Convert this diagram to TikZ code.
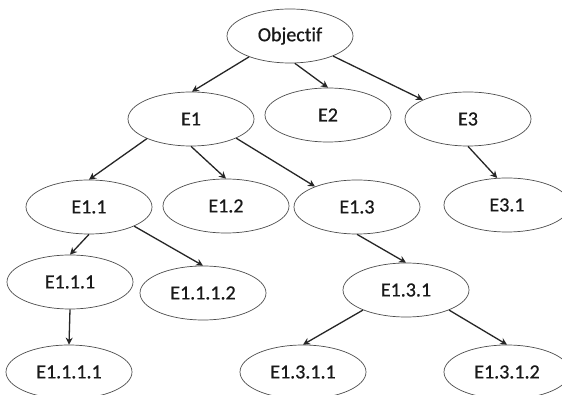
\documentclass[tikz,border=0pt]{standalone}
\usepackage{fontspec}
\setmainfont{Carlito}[Ligatures=NoCommon,AutoFakeBold=0.6]
\usetikzlibrary{shapes.geometric,arrows.meta}
\begin{document}
\begin{tikzpicture}[x=1pt,y=-1pt,
  goal/.style={ellipse,draw=black!70,line width=0.7pt,minimum width=126pt,minimum height=54pt,inner sep=0pt,font=\fontsize{20}{23}\selectfont\bfseries,text=black!90},
  link/.style={draw=black!85,line width=1.3pt,-{Stealth[length=7pt,width=7pt]}}]
\useasboundingbox[fill=white] (0,0) rectangle (562,395);
\node[goal] (obj) at (290,36) {Objectif};
\node[goal] (e1) at (191,119) {E1};
\node[goal] (e2) at (328,115) {E2};
\node[goal] (e3) at (468,119) {E3};
\node[goal] (e11) at (89,207) {E1.1};
\node[goal] (e12) at (226,206) {E1.2};
\node[goal] (e13) at (357,207) {E1.3};
\node[goal] (e31) at (507,205) {E3.1};
\node[goal] (e111) at (70,282) {E1.1.1};
\node[goal] (e1112) at (203,293) {E1.1.1.2};
\node[goal] (e131) at (406,290) {E1.3.1};
\node[goal] (e1111) at (69,372) {E1.1.1.1};
\node[goal] (e1311) at (303,372) {E1.3.1.1};
\node[goal] (e1312) at (507,372) {E1.3.1.2};
\draw[link] (obj.207) -- (e1.88);
\draw[link] (obj.280) -- (e2.north);
\draw[link] (obj.335) -- (e3.157);
\draw[link] (e1.204) -- (e11.north);
\draw[link] (e1.south) -- (e12.north);
\draw[link] (e1.337) -- (e13.154);
\draw[link] (e3.south) -- (e31.110);
\draw[link] (e11.south) -- (e111.north);
\draw[link] (e11.337) -- (e1112.north);
\draw[link] (e111.south) -- (e1111.north);
\draw[link] (e13.south) -- (e131.north);
\draw[link] (e131.205) -- (e1311.north);
\draw[link] (e131.335) -- (e1312.north);
\end{tikzpicture}
\end{document}
